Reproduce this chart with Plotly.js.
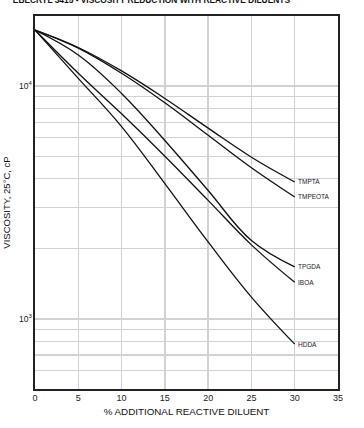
<!DOCTYPE html>
<html><head><meta charset="utf-8">
<script src="https://cdn.plot.ly/plotly-3.0.1.min.js"></script>
<style>html,body{margin:0;padding:0;background:#fff}#chart{width:364px;height:428px}</style>
</head><body><div id="chart"></div>
<script>
const diluent = [0, 5, 10, 15, 20, 25, 30];
const TMPTA   = [17400, 14650, 11620, 8850, 6600, 4950, 3874];
const TMPEOTA = [17400, 14550, 11350, 8480, 6150, 4460, 3340];
const TPGDA   = [17400, 13600, 9300, 5840, 3560, 2170, 1672];
const IBOA    = [17400, 11350, 7600, 5000, 3230, 2080, 1436];
const HDDA    = [17400, 10800, 6700, 3810, 2140, 1240, 779];
const seriesNames = ["TMPTA", "TMPEOTA", "TPGDA", "IBOA", "HDDA"];
const seriesVals = [TMPTA, TMPEOTA, TPGDA, IBOA, HDDA];
const majorVals = [1000, 10000];
const majorText = ["10<sup>3</sup>", "10<sup>4</sup>"];
const minorVals = [500,600,700,800,900,2000,3000,4000,5000,6000,7000,8000,9000];
const xTicks = [0,5,10,15,20,25,30,35];

const traces = seriesNames.map((n, i) => ({
  x: diluent, y: seriesVals[i], name: n, type: 'scatter', mode: 'lines',
  line: {color: '#111', width: 1.3, shape: 'spline', smoothing: 1.1},
  hoverinfo: 'skip'
}));

const annotations = seriesNames.map((n, i) => ({
  x: diluent[diluent.length-1], y: Math.log10(seriesVals[i][seriesVals[i].length-1]),
  xref: 'x', yref: 'y', text: n, showarrow: false, xanchor: 'left', yanchor: 'middle',
  xshift: 1, font: {family: 'Liberation Sans, Arial', size: 6.5, color: '#1a1a2e'}
}));

const layout = {
  width: 364, height: 428,
  margin: {l: 35, r: 26, t: 16, b: 39},
  paper_bgcolor: '#fff', plot_bgcolor: '#fff',
  showlegend: false,
  title: {
    text: '<b>EBECRYL 3415 - VISCOSITY REDUCTION WITH REACTIVE DILUENTS</b>',
    font: {family: 'Liberation Sans, Arial', size: 8.4, color: '#111'},
    x: 290/364, xanchor: 'right', xref: 'container',
    y: 0.999, yanchor: 'middle', yref: 'container'
  },
  xaxis: {
    range: [0, 35], tickvals: xTicks, ticktext: xTicks.map(String),
    showgrid: true, gridcolor: '#d2d2d2', gridwidth: 1.3,
    showline: true, linecolor: '#222', linewidth: 1.6, mirror: true,
    ticks: '', zeroline: false,
    tickfont: {family: 'Liberation Sans, Arial', size: 9, color: '#222'},
    title: {text: '% ADDITIONAL REACTIVE DILUENT', standoff: 6,
      font: {family: 'Liberation Sans, Arial', size: 9.8, color: '#111'}}
  },
  yaxis: {
    type: 'log', range: [Math.log10(500), Math.log10(20000)],
    tickvals: majorVals, ticktext: majorText,
    showgrid: true, gridcolor: '#d2d2d2', gridwidth: 1.3,
    minor: {tickvals: minorVals, showgrid: true, gridcolor: '#d2d2d2', gridwidth: 1.3, ticks: ''},
    showline: true, linecolor: '#222', linewidth: 1.6, mirror: true,
    ticks: '', zeroline: false,
    tickfont: {family: 'Liberation Sans, Arial', size: 8.5, color: '#222'},
    title: {text: 'VISCOSITY, 25°C, cP', standoff: 6,
      font: {family: 'Liberation Sans, Arial', size: 9.5, color: '#111'}}
  },
  annotations: annotations
};

Plotly.newPlot('chart', traces, layout, {staticPlot: true, displayModeBar: false});
</script></body></html>
